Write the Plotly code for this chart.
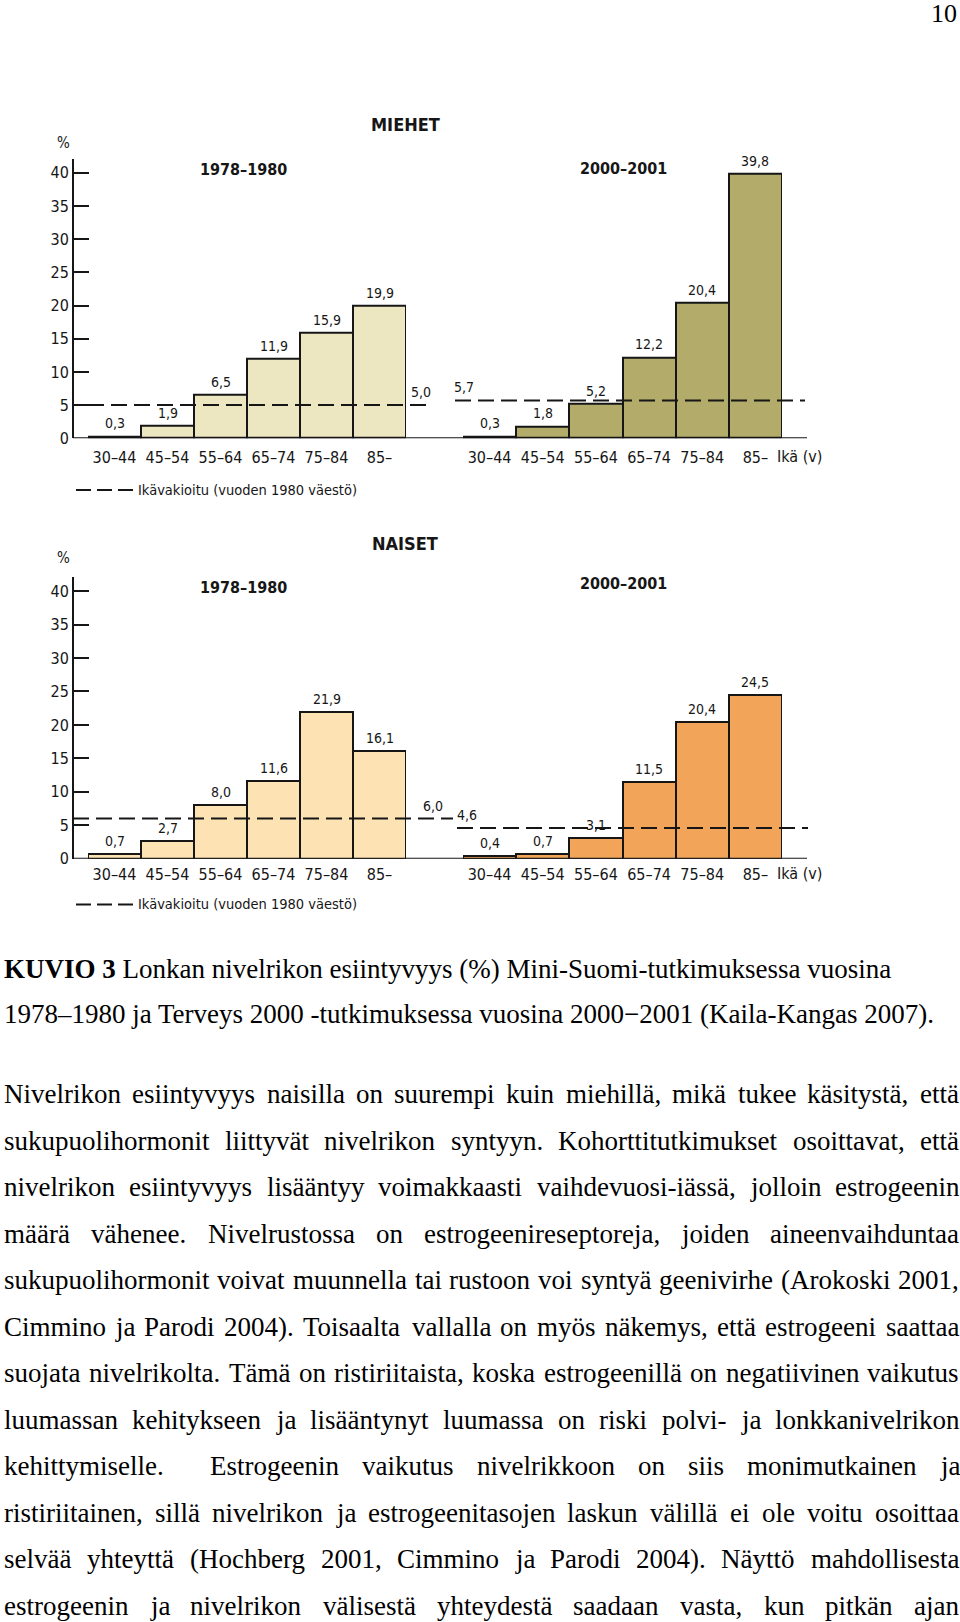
import plotly.graph_objects as go

W, H = 960, 1622

# ---------------- data ----------------
ages = ["30–44", "45–54", "55–64", "65–74", "75–84", "85–"]
men_1978 = [0.3, 1.9, 6.5, 11.9, 15.9, 19.9]
men_2000 = [0.3, 1.8, 5.2, 12.2, 20.4, 39.8]
women_1978 = [0.7, 2.7, 8.0, 11.6, 21.9, 16.1]
women_2000 = [0.4, 0.7, 3.1, 11.5, 20.4, 24.5]
men_adjusted = [5.0, 5.7]
women_adjusted = [6.0, 4.6]
periods = ["1978–1980", "2000–2001"]
y_ticks = [0, 5, 10, 15, 20, 25, 30, 35, 40]
legend_text = "Ikävakioitu (vuoden 1980 väestö)"
age_unit = "Ikä (v)"

caption_lines = [
    "<b>KUVIO 3</b> Lonkan nivelrikon esiintyvyys (%) Mini-Suomi-tutkimuksessa vuosina",
    "1978–1980 ja Terveys 2000 -tutkimuksessa vuosina 2000−2001 (Kaila-Kangas 2007).",
]
body_lines = [
    "Nivelrikon esiintyvyys naisilla on suurempi kuin miehillä, mikä tukee käsitystä, että",
    "sukupuolihormonit liittyvät nivelrikon syntyyn. Kohorttitutkimukset osoittavat, että",
    "nivelrikon esiintyvyys lisääntyy voimakkaasti vaihdevuosi-iässä, jolloin estrogeenin",
    "määrä vähenee. Nivelrustossa on estrogeenireseptoreja, joiden aineenvaihduntaa",
    "sukupuolihormonit voivat muunnella tai rustoon voi syntyä geenivirhe (Arokoski 2001,",
    "Cimmino ja Parodi 2004). Toisaalta vallalla on myös näkemys, että estrogeeni saattaa",
    "suojata nivelrikolta. Tämä on ristiriitaista, koska estrogeenillä on negatiivinen vaikutus",
    "luumassan kehitykseen ja lisääntynyt luumassa on riski polvi- ja lonkkanivelrikon",
    "kehittymiselle.  Estrogeenin vaikutus nivelrikkoon on siis monimutkainen ja",
    "ristiriitainen, sillä nivelrikon ja estrogeenitasojen laskun välillä ei ole voitu osoittaa",
    "selvää yhteyttä (Hochberg 2001, Cimmino ja Parodi 2004). Näyttö mahdollisesta",
    "estrogeenin ja nivelrikon välisestä yhteydestä saadaan vasta, kun pitkän ajan",
]
page_number = "10"

# ---------------- styles ----------------
COND = "Liberation Sans Narrow, DejaVu Sans Condensed, Arial Narrow, sans-serif"
SERIF = "Liberation Serif, Times New Roman, serif"
INK = "#161616"
TXT = "#000000"
colors = {"m1": "#ece7c0", "m2": "#b3ab69", "w1": "#fde2b3", "w2": "#f2a458"}


def px(x):
    return x / W


def py(y):
    return 1 - y / H


fig = go.Figure()

charts = [
    dict(name="MIEHET", zero=441, unit=6.68, data=(men_1978, men_2000), adj=men_adjusted,
         cols=("m1", "m2"), xa=("x", "x2"), ya="y", title_y=125, per_y=(171, 170),
         pct_y=144, legend_y=493, standoff=8, lab_dy=18,
         adj_x=((88, 433), (455, 805)), adj_lab=(421, 464)),
    dict(name="NAISET", zero=864, unit=6.73, data=(women_1978, women_2000), adj=women_adjusted,
         cols=("w1", "w2"), xa=("x3", "x4"), ya="y2", title_y=547, per_y=(591, 587),
         pct_y=561, legend_y=910, standoff=4, lab_dy=15,
         adj_x=((73, 453), (457, 808)), adj_lab=(433, 467)),
]
panel_x = [(88, 406), (463, 782)]
period_cx = [243, 623]
YTOP = 42.1

layout = dict(
    width=W, height=H, margin=dict(l=0, r=0, t=0, b=0),
    paper_bgcolor="white", plot_bgcolor="rgba(0,0,0,0)",
    showlegend=False, bargap=0, barmode="overlay",
    font=dict(family=COND, color=INK),
)
annotations = []
shapes = []


def paper_text(x, y, text, size, family=COND, xanchor="center", color=INK):
    annotations.append(dict(x=px(x), y=py(y), xref="paper", yref="paper", text=text,
                            showarrow=False, xanchor=xanchor, yanchor="middle", borderpad=0,
                            font=dict(family=family, size=size, color=color)))


for c in charts:
    ydom = [py(c["zero"]), py(c["zero"] - YTOP * c["unit"])]
    yname = "yaxis" if c["ya"] == "y" else "yaxis2"
    layout[yname] = dict(
        domain=ydom, range=[0, YTOP], anchor="free", position=px(73),
        tickvals=y_ticks, ticks="inside", ticklen=15, tickwidth=2, tickcolor=INK,
        showline=True, linewidth=2, linecolor=INK, showgrid=False, zeroline=False,
        tickfont=dict(family=COND, size=16, color=INK), fixedrange=True,
    )
    for pi in range(2):
        xa = c["xa"][pi]
        xname = "xaxis" if xa == "x" else "xaxis" + xa[1:]
        layout[xname] = dict(
            domain=[px(panel_x[pi][0]), px(panel_x[pi][1])], anchor=c["ya"],
            type="category", categoryorder="array", categoryarray=ages,
            range=[-0.5, 5.5], showline=False, showgrid=False, zeroline=False,
            ticks="", ticklabelstandoff=c["standoff"],
            tickfont=dict(family=COND, size=16, color=INK), fixedrange=True,
        )
        vals = c["data"][pi]
        fig.add_trace(go.Bar(
            x=ages, y=vals, xaxis=xa, yaxis=c["ya"], width=1.0,
            marker=dict(color=colors[c["cols"][pi]], line=dict(color=INK, width=2)),
            hoverinfo="skip",
        ))
        for a, v in zip(ages, vals):
            annotations.append(dict(
                x=a, y=v, xref=xa, yref=c["ya"], text=f"{v:.1f}".replace(".", ","),
                showarrow=False, xanchor="center", yanchor="bottom", yshift=3,
                font=dict(family=COND, size=14, color=INK),
            ))
        x0, x1 = c["adj_x"][pi]
        shapes.append(dict(type="line", xref="paper", yref=c["ya"],
                           x0=px(x0), x1=px(x1), y0=c["adj"][pi], y1=c["adj"][pi],
                           line=dict(color=INK, width=2, dash="16px,7px")))
        annotations.append(dict(
            x=px(c["adj_lab"][pi]), y=c["adj"][pi], xref="paper", yref=c["ya"],
            text=f"{c['adj'][pi]:.1f}".replace(".", ","), showarrow=False,
            xanchor="center", yanchor="bottom", yshift=3,
            font=dict(family=COND, size=14, color=INK),
        ))
        paper_text(period_cx[pi], c["per_y"][pi], f"<b>{periods[pi]}</b>", 16)
    shapes.append(dict(type="line", xref="paper", yref=c["ya"], x0=px(73), x1=px(807),
                       y0=0, y1=0, line=dict(color=INK, width=2)))
    paper_text(405, c["title_y"], f"<b>{c['name']}</b>", 18)
    paper_text(63, c["pct_y"], "%", 15)
    paper_text(776, c["zero"] + c["lab_dy"], age_unit, 16, xanchor="left")
    shapes.append(dict(type="line", xref="paper", yref="paper", x0=px(76), x1=px(134),
                       y0=py(c["legend_y"]), y1=py(c["legend_y"]),
                       line=dict(color=INK, width=2, dash="15px,6px")))
    paper_text(137, c["legend_y"], legend_text, 14.5, xanchor="left")

# ---------------- page text (Times metrics for justification) ----------------
TIMES = {' ': 250, '%': 833, '(': 333, ')': 333, ',': 250, '-': 333, '.': 250, '–': 500, '−': 564,
         'A': 722, 'B': 667, 'C': 667, 'D': 722, 'E': 611, 'F': 556, 'G': 722, 'H': 722, 'I': 333,
         'J': 389, 'K': 722, 'L': 611, 'M': 889, 'N': 722, 'O': 722, 'P': 556, 'Q': 722, 'R': 667,
         'S': 556, 'T': 611, 'U': 722, 'V': 722, 'W': 944, 'X': 722, 'Y': 722, 'Z': 611,
         'a': 444, 'b': 500, 'c': 444, 'd': 500, 'e': 444, 'f': 333, 'g': 500, 'h': 500, 'i': 278,
         'j': 278, 'k': 500, 'l': 278, 'm': 778, 'n': 500, 'o': 500, 'p': 500, 'q': 500, 'r': 333,
         's': 389, 't': 278, 'u': 500, 'v': 500, 'w': 722, 'x': 500, 'y': 500, 'z': 444,
         'ä': 444, 'ö': 500, 'å': 444, 'Ä': 722, 'Ö': 722}
FS = 27


def tw(s):
    return sum(TIMES.get(ch, 500) for ch in s) * FS / 1000.0


LEFT, RIGHT = 3, 958
for line, yy in zip(caption_lines, [975, 1020]):
    paper_text(LEFT, yy, line, FS, family=SERIF, xanchor="left", color=TXT)

body_y0, body_dy = 1101, 46.8
for li, line in enumerate(body_lines):
    words = line.split(" ")
    natural = sum(tw(w) for w in words)
    gap = (RIGHT - LEFT - natural) / (len(words) - 1)
    xpos = LEFT
    yy = body_y0 + li * body_dy
    for w in words:
        if w:
            paper_text(xpos, yy, w, FS, family=SERIF, xanchor="left", color=TXT)
        xpos += tw(w) + gap

paper_text(958, 14, page_number, 26, family=SERIF, xanchor="right", color=TXT)

layout["annotations"] = annotations
layout["shapes"] = shapes
fig.update_layout(**layout)
fig.write_html("out.html", config={"displayModeBar": False},
               post_script="document.body.style.margin='0px';")
